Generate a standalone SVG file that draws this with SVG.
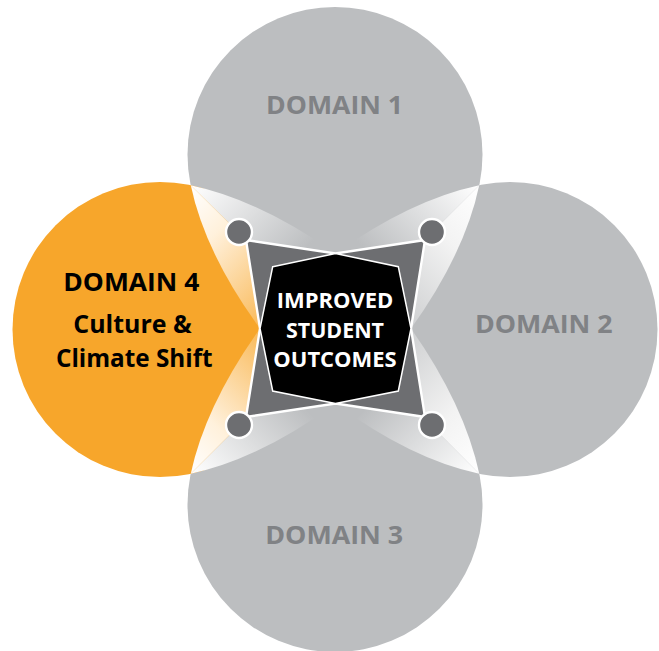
<svg xmlns="http://www.w3.org/2000/svg" width="659" height="651" viewBox="0 0 659 651">
<style>
.gc{fill:#bcbec0}
.oc{fill:#f7a62b}
.lbl{font-family:"Open Sans","Liberation Sans",sans-serif;font-weight:bold;font-size:24.5px;text-anchor:middle}
.gt{fill:#808285}
.bt{fill:#000}
.ct{font-family:"Open Sans","Liberation Sans",sans-serif;font-weight:bold;font-size:21px;text-anchor:middle;fill:#fff}
.star{fill:#6d6e71;stroke:#fff;stroke-width:2.4;stroke-linejoin:miter}
.oct{fill:#000;stroke:#fff;stroke-width:1.5}
.dot{fill:#6d6e71;stroke:#fff;stroke-width:2.4}
</style>
<defs>
<linearGradient id="gTLg" gradientUnits="userSpaceOnUse" x1="190.74" y1="185.24" x2="335.5" y2="329"><stop offset="0" stop-color="#fff"/><stop offset="0.62" stop-color="#bcbec0"/></linearGradient>
<linearGradient id="gTLo" gradientUnits="userSpaceOnUse" x1="190.74" y1="185.24" x2="335.5" y2="329"><stop offset="0" stop-color="#fff"/><stop offset="0.25" stop-color="#fff1dc"/><stop offset="0.9" stop-color="#f7a62b"/></linearGradient>
<linearGradient id="gTRg" gradientUnits="userSpaceOnUse" x1="479.26" y1="185.24" x2="335.5" y2="329"><stop offset="0" stop-color="#fff"/><stop offset="0.62" stop-color="#bcbec0"/></linearGradient>
<linearGradient id="gTRl" gradientUnits="userSpaceOnUse" x1="479.26" y1="185.24" x2="335.5" y2="329"><stop offset="0" stop-color="#fff"/><stop offset="0.3" stop-color="#f3f3f3"/><stop offset="0.95" stop-color="#bcbec0"/></linearGradient>
<linearGradient id="gBLo" gradientUnits="userSpaceOnUse" x1="190.74" y1="473.76" x2="335.5" y2="329"><stop offset="0" stop-color="#fff"/><stop offset="0.25" stop-color="#fff1dc"/><stop offset="0.9" stop-color="#f7a62b"/></linearGradient>
<linearGradient id="gBLg" gradientUnits="userSpaceOnUse" x1="190.74" y1="473.76" x2="335.5" y2="329"><stop offset="0" stop-color="#fff"/><stop offset="0.62" stop-color="#bcbec0"/></linearGradient>
<linearGradient id="gBRl" gradientUnits="userSpaceOnUse" x1="479.26" y1="473.76" x2="335.5" y2="329"><stop offset="0" stop-color="#fff"/><stop offset="0.3" stop-color="#f3f3f3"/><stop offset="0.95" stop-color="#bcbec0"/></linearGradient>
<linearGradient id="gBRg" gradientUnits="userSpaceOnUse" x1="479.26" y1="473.76" x2="335.5" y2="329"><stop offset="0" stop-color="#fff"/><stop offset="0.62" stop-color="#bcbec0"/></linearGradient>
</defs>
<rect width="659" height="651" fill="#fff"/>
<g id="domain1">
<circle class="gc" cx="335" cy="154.5" r="147.5"/>
</g>
<g id="domain2">
<circle class="gc" cx="510" cy="329.5" r="147.5"/>
</g>
<g id="domain3">
<circle class="gc" cx="335" cy="504.5" r="147.5"/>
</g>
<g id="domain4">
<circle class="oc" cx="160" cy="329.5" r="147.5"/>
</g>
<g id="overlaps">
<path fill="url(#gTLg)" d="M190.74 185.24 Q259.2 199.8 335.5 253.5 L335.5 329 Z"/>
<path fill="url(#gTLo)" d="M190.74 185.24 L335.5 329 L260 328.5 Q205.3 253.7 190.74 185.24 Z"/>
<path fill="url(#gTRg)" d="M479.26 185.24 Q410.8 199.8 335.5 253.5 L335.5 329 Z"/>
<path fill="url(#gTRl)" d="M479.26 185.24 L335.5 329 L411 328.5 Q464.7 253.7 479.26 185.24 Z"/>
<path fill="url(#gBLo)" d="M190.74 473.76 L335.5 329 L260 328.5 Q205.3 405.3 190.74 473.76 Z"/>
<path fill="url(#gBLg)" d="M190.74 473.76 Q259.2 459.2 335.5 403.5 L335.5 329 Z"/>
<path fill="url(#gBRl)" d="M479.26 473.76 L335.5 329 L411 328.5 Q464.7 405.3 479.26 473.76 Z"/>
<path fill="url(#gBRg)" d="M479.26 473.76 Q410.8 459.2 335.5 403.5 L335.5 329 Z"/>
</g>
<g id="connectors">
<path class="star" d="M246 240 L335.5 253.5 L425 240 L411 328.5 L425 417 L335.5 403.5 L246 417 L260 328.5 Z"/>
<circle class="dot" cx="239" cy="232" r="13"/>
<circle class="dot" cx="432" cy="232" r="13"/>
<circle class="dot" cx="239" cy="425" r="13"/>
<circle class="dot" cx="432" cy="425" r="13"/>
</g>
<g id="center">
<path class="oct" d="M272.7 266.7 L335.5 253.5 L398.3 266.7 L411 328.5 L398.3 391 L335.5 403.5 L272.7 391 L260 328.5 Z"/>
<text class="ct" x="335" y="308.3" textLength="116.7" lengthAdjust="spacingAndGlyphs">IMPROVED</text>
<text class="ct" x="335" y="337.7" textLength="98" lengthAdjust="spacingAndGlyphs">STUDENT</text>
<text class="ct" x="335" y="366.7" textLength="123.4" lengthAdjust="spacingAndGlyphs">OUTCOMES</text>
</g>
<g id="labels">
<text class="lbl gt" x="334.5" y="114" textLength="137" lengthAdjust="spacingAndGlyphs">DOMAIN 1</text>
<text class="lbl gt" x="543.8" y="332.5" textLength="137.7" lengthAdjust="spacingAndGlyphs">DOMAIN 2</text>
<text class="lbl gt" x="334.2" y="544.3" textLength="138" lengthAdjust="spacingAndGlyphs">DOMAIN 3</text>
<text class="lbl bt" x="131.3" y="290.7" textLength="136" lengthAdjust="spacingAndGlyphs">DOMAIN 4</text>
<text class="lbl bt" x="132.5" y="332.7" textLength="118.4" lengthAdjust="spacingAndGlyphs">Culture &amp;</text>
<text class="lbl bt" x="134.3" y="367.3" textLength="156.7" lengthAdjust="spacingAndGlyphs">Climate Shift</text>
</g>
</svg>
